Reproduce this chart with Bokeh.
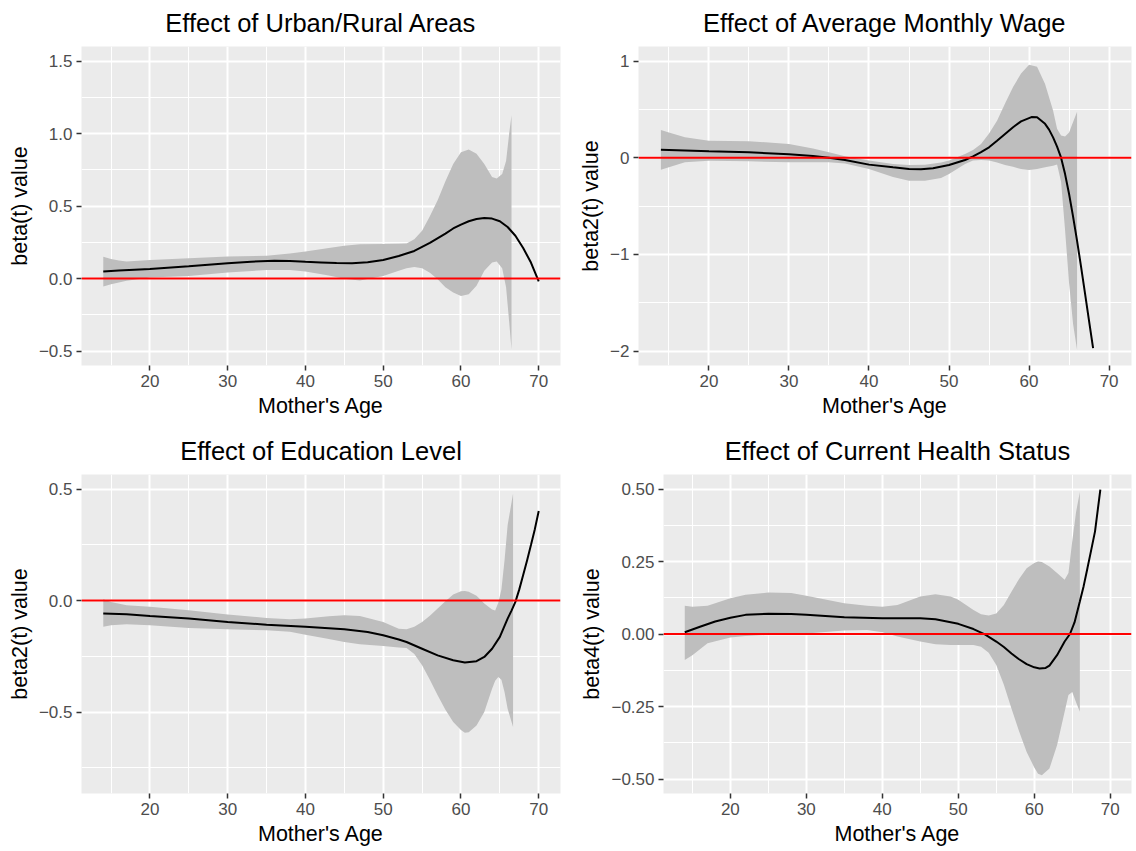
from bokeh.plotting import figure
from bokeh.layouts import column, row
from bokeh.models import FixedTicker, Range1d, Span
from bokeh.embed import file_html
from bokeh.resources import INLINE

FONT = "Liberation Sans"

# Shared x axis (mother's age)
age_ticks = [20, 30, 40, 50, 60, 70]
age_minor = [15, 25, 35, 45, 55, 65]
age_labels = ["20", "30", "40", "50", "60", "70"]
x_label = "Mother's Age"
ref_level = 0.0

# Panel 1: urban / rural areas
title1 = "Effect of Urban/Rural Areas"
ylab1 = "beta(t) value"
band_x1 = [14, 15, 16, 17, 20, 25, 30, 35, 38, 40, 43, 45, 47, 50, 52, 53, 54, 55, 56,
           57, 58, 59, 60, 61, 62, 63, 64, 64.6, 65.3, 65.8, 66.2, 66.5]
upper1 = [0.15, 0.134, 0.124, 0.118, 0.127, 0.14, 0.152, 0.157, 0.172, 0.187, 0.21,
          0.226, 0.236, 0.238, 0.24, 0.242, 0.27, 0.33, 0.43, 0.54, 0.67, 0.79, 0.87,
          0.89, 0.86, 0.79, 0.70, 0.69, 0.72, 0.81, 1.0, 1.126]
lower1 = [-0.055, -0.04, -0.028, -0.015, 0.007, 0.018, 0.042, 0.058, 0.058, 0.048,
          0.02, -0.002, -0.014, 0.018, 0.053, 0.07, 0.08, 0.07, 0.04, -0.005, -0.06,
          -0.097, -0.12, -0.108, -0.05, 0.053, 0.11, 0.118, 0.07, -0.06, -0.3, -0.49]
line_x1 = [14, 16, 18, 20, 25, 30, 33, 36, 38, 40, 42, 44, 46, 48, 50, 52, 54, 56, 58,
           59, 60, 61, 62, 63, 64, 65, 66, 67, 68, 69, 70]
line1 = [0.048, 0.055, 0.06, 0.065, 0.085, 0.106, 0.116, 0.122, 0.12, 0.115, 0.111,
         0.107, 0.106, 0.112, 0.128, 0.155, 0.19, 0.245, 0.31, 0.345, 0.372, 0.395,
         0.41, 0.418, 0.413, 0.395, 0.355, 0.295, 0.21, 0.11, -0.02]
yr1 = (-0.6, 1.6)
yt1 = [-0.5, 0.0, 0.5, 1.0, 1.5]
ym1 = [-0.25, 0.25, 0.75, 1.25]
yl1 = ["\u22120.5", "0.0", "0.5", "1.0", "1.5"]

# Panel 2: average monthly wage
title2 = "Effect of Average Monthly Wage"
ylab2 = "beta2(t) value"
band_x2 = [14, 15, 17, 20, 25, 30, 33, 35, 37, 40, 43, 45, 47, 49, 50, 52, 53, 54, 55,
           56, 57, 58, 59, 60, 61, 62, 63, 63.5, 64, 64.5, 65, 65.5, 66]
upper2 = [0.287, 0.26, 0.21, 0.176, 0.17, 0.142, 0.095, 0.055, 0.014, -0.03, -0.065,
          -0.076, -0.072, -0.05, -0.03, 0.038, 0.08, 0.142, 0.25, 0.383, 0.56, 0.73,
          0.87, 0.96, 0.94, 0.763, 0.487, 0.30, 0.23, 0.22, 0.26, 0.37, 0.476]
lower2 = [-0.124, -0.1, -0.048, -0.031, -0.038, -0.048, -0.048, -0.048, -0.06, -0.117,
          -0.2, -0.238, -0.238, -0.21, -0.17, -0.066, -0.03, -0.025, -0.03, -0.05,
          -0.075, -0.095, -0.117, -0.128, -0.117, -0.1, -0.083, -0.07, -0.25, -0.75,
          -1.3, -1.72, -1.99]
line_x2 = [14, 17, 20, 25, 30, 33, 35, 37, 40, 43, 45, 46.5, 48, 50, 52, 53, 54, 55,
           56, 57, 58, 59, 60.3, 61, 62, 62.5, 63, 63.5, 64, 64.5, 65, 65.5, 66, 66.5,
           67, 67.5, 68]
line2 = [0.083, 0.075, 0.066, 0.055, 0.035, 0.017, 0.0, -0.024, -0.072, -0.1, -0.117,
         -0.12, -0.11, -0.076, -0.024, 0.014, 0.058, 0.107, 0.175, 0.245, 0.315, 0.376,
         0.42, 0.418, 0.35, 0.29, 0.21, 0.115, 0.0, -0.17, -0.376, -0.61, -0.86, -1.13,
         -1.41, -1.69, -1.97]
yr2 = (-2.15, 1.15)
yt2 = [-2, -1, 0, 1]
ym2 = [-1.5, -0.5, 0.5]
yl2 = ["\u22122", "\u22121", "0", "1"]

# Panel 3: education level
title3 = "Effect of Education Level"
ylab3 = "beta2(t) value"
band_x3 = [14, 15, 17, 20, 25, 30, 35, 38, 40, 43, 45, 47, 50, 52, 53, 54, 55, 56, 57,
           58, 59, 60, 60.5, 61, 62, 63, 64, 64.4, 64.8, 65.2, 65.6, 66, 66.7]
upper3 = [0.006, -0.006, -0.021, -0.028, -0.043, -0.063, -0.078, -0.084, -0.081, -0.07,
          -0.066, -0.069, -0.096, -0.126, -0.129, -0.118, -0.096, -0.068, -0.036,
          -0.003, 0.027, 0.042, 0.043, 0.039, 0.021, -0.013, -0.04, -0.045, -0.01,
          0.05, 0.18, 0.338, 0.48]
lower3 = [-0.118, -0.111, -0.106, -0.111, -0.123, -0.129, -0.133, -0.14, -0.153,
          -0.172, -0.186, -0.196, -0.204, -0.21, -0.213, -0.24, -0.29, -0.355, -0.425,
          -0.49, -0.545, -0.58, -0.593, -0.59, -0.56, -0.5, -0.395, -0.36, -0.343,
          -0.355, -0.41, -0.485, -0.567]
line_x3 = [14, 17, 20, 25, 30, 35, 40, 45, 48, 50, 52, 53, 55, 57, 59, 60.5, 62, 63,
           64, 65, 66, 66.5, 67, 67.5, 68, 68.5, 69, 69.5, 70]
line3 = [-0.058, -0.061, -0.069, -0.081, -0.096, -0.108, -0.118, -0.129, -0.141,
         -0.156, -0.175, -0.186, -0.216, -0.246, -0.268, -0.278, -0.272, -0.253,
         -0.216, -0.163, -0.081, -0.045, -0.006, 0.05, 0.114, 0.18, 0.249, 0.32, 0.401]
yr3 = (-0.865, 0.565)
yt3 = [-0.5, 0.0, 0.5]
ym3 = [-0.75, -0.25, 0.25]
yl3 = ["\u22120.5", "0.0", "0.5"]

# Panel 4: current health status
title4 = "Effect of Current Health Status"
ylab4 = "beta4(t) value"
band_x4 = [14, 15, 17, 20, 22, 25, 28, 30, 35, 38, 40, 42, 45, 47, 49, 50, 52, 53, 54,
           55, 56, 57, 58, 59, 60, 60.5, 61, 62, 63, 64, 64.5, 65, 65.5, 66]
upper4 = [0.097, 0.094, 0.097, 0.123, 0.135, 0.143, 0.141, 0.132, 0.106, 0.097, 0.094,
          0.1, 0.129, 0.137, 0.129, 0.118, 0.083, 0.068, 0.064, 0.071, 0.1, 0.146, 0.19,
          0.227, 0.245, 0.25, 0.248, 0.233, 0.21, 0.187, 0.21, 0.32, 0.42, 0.49]
lower4 = [-0.09, -0.073, -0.032, -0.012, -0.007, -0.003, 0.0, 0.002, 0.012, 0.014,
          0.006, -0.009, -0.026, -0.035, -0.038, -0.038, -0.038, -0.044, -0.065,
          -0.107, -0.175, -0.257, -0.335, -0.407, -0.46, -0.482, -0.487, -0.464,
          -0.384, -0.268, -0.21, -0.2, -0.235, -0.268]
line_x4 = [14, 16, 18, 20, 22, 25, 28, 30, 35, 40, 45, 47, 50, 52, 53.5, 55, 56, 57,
           58, 59, 60, 60.7, 61.5, 62, 63, 64, 64.7, 65.3, 66, 66.5, 67, 67.5, 68, 68.7]
line4 = [0.006, 0.025, 0.043, 0.056, 0.066, 0.07, 0.069, 0.066, 0.058, 0.054, 0.054,
         0.051, 0.035, 0.017, -0.001, -0.026, -0.045, -0.067, -0.087, -0.104, -0.115,
         -0.119, -0.117, -0.109, -0.073, -0.026, 0.0, 0.04, 0.112, 0.165, 0.227, 0.29,
         0.354, 0.498]
yr4 = (-0.55, 0.55)
yt4 = [-0.5, -0.25, 0.0, 0.25, 0.5]
ym4 = [-0.375, -0.125, 0.125, 0.375]
yl4 = ["\u22120.50", "\u22120.25", "0.00", "0.25", "0.50"]


def panel(title, ylab, bx, up, lo, lx, ly, yr, yt, ym, yl, height, borders):
    left, right, top, bottom = borders
    p = figure(width=568, height=height, output_backend="svg", toolbar_location=None,
               x_range=Range1d(11.2, 72.8), y_range=Range1d(*yr),
               min_border_left=left, min_border_right=right,
               min_border_top=top, min_border_bottom=bottom,
               title=title)
    p.background_fill_color = "#EBEBEB"
    p.border_fill_color = "white"
    p.outline_line_color = None

    p.title.align = "center"
    p.title.vertical_align = "top"
    p.title.text_font = FONT
    p.title.text_font_size = "25.5px"
    p.title.text_font_style = "normal"
    p.title.text_color = "black"
    p.title.standoff = 16

    p.xaxis.ticker = FixedTicker(ticks=age_ticks, minor_ticks=age_minor)
    p.xaxis.major_label_overrides = dict(zip(age_ticks, age_labels))
    p.yaxis.ticker = FixedTicker(ticks=yt, minor_ticks=ym)
    p.yaxis.major_label_overrides = dict(zip(yt, yl))
    p.xaxis.axis_label = x_label
    p.yaxis.axis_label = ylab

    for ax in (p.xaxis[0], p.yaxis[0]):
        ax.axis_line_color = None
        ax.major_tick_line_color = "#333333"
        ax.major_tick_line_width = 1.5
        ax.major_tick_out = 5
        ax.major_tick_in = 0
        ax.minor_tick_line_color = None
        ax.major_label_text_font = FONT
        ax.major_label_text_font_size = "17px"
        ax.major_label_text_color = "#4D4D4D"
        ax.major_label_standoff = 4
        ax.axis_label_text_font = FONT
        ax.axis_label_text_font_size = "21.5px"
        ax.axis_label_text_font_style = "normal"
        ax.axis_label_text_color = "black"
        ax.axis_label_standoff = 4

    for g in (p.xgrid[0], p.ygrid[0]):
        g.grid_line_color = "white"
        g.grid_line_width = 2
        g.minor_grid_line_color = "white"
        g.minor_grid_line_width = 1

    p.varea(x=bx, y1=lo, y2=up, fill_color="#BEBEBE", fill_alpha=1.0)
    p.line(x=lx, y=ly, line_color="black", line_width=2)
    p.add_layout(Span(location=ref_level, dimension="width",
                      line_color="#FF0000", line_width=2))
    return p


p1 = panel(title1, ylab1, band_x1, upper1, lower1, line_x1, line1, yr1, yt1, ym1, yl1,
           425, (81, 8, 46, 60))
p2 = panel(title2, ylab2, band_x2, upper2, lower2, line_x2, line2, yr2, yt2, ym2, yl2,
           425, (70, 5, 46, 60))
p3 = panel(title3, ylab3, band_x3, upper3, lower3, line_x3, line3, yr3, yt3, ym3, yl3,
           426, (81, 8, 49, 58))
p4 = panel(title4, ylab4, band_x4, upper4, lower4, line_x4, line4, yr4, yt4, ym4, yl4,
           426, (95, 5, 49, 58))

layout = column(row(p1, p2), row(p3, p4))

open("out.html", "w").write(file_html(layout, INLINE))
